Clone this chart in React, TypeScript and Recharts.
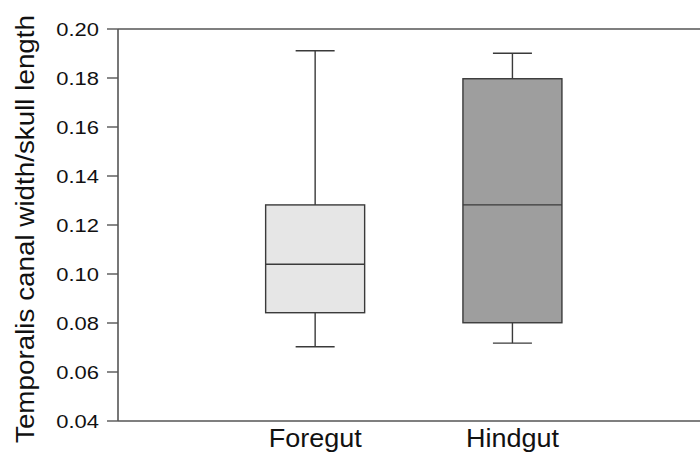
import { ComposedChart, Bar, XAxis, YAxis, ReferenceLine } from 'recharts';

const groups = ['Foregut', 'Hindgut'];
const positions = [1, 2];
const whiskerLow = [0.0703, 0.0718];
const q1 = [0.0842, 0.0801];
const median = [0.104, 0.1282];
const q3 = [0.1282, 0.1797];
const whiskerHigh = [0.1911, 0.1901];
const fills = ['#e6e6e6', '#9e9e9e'];
const yTicks = [0.04, 0.06, 0.08, 0.1, 0.12, 0.14, 0.16, 0.18, 0.2];

const data = groups.map((name, i) => ({
  name,
  pos: positions[i],
  min: whiskerLow[i],
  q1: q1[i],
  median: median[i],
  q3: q3[i],
  max: whiskerHigh[i],
  fill: fills[i]
}));

const font = 'Arial, "Liberation Sans", sans-serif';
const ink = '#3a3a3a';

// bar spans min..max, the inner marks are placed on the same linear scale
function BoxShape(props: any) {
  const { x, y, width, height, payload } = props;
  const top = Math.min(y, y + height);
  const bottom = Math.max(y, y + height);
  const span = payload.max - payload.min;
  const py = (v: number) => top + ((payload.max - v) / span) * (bottom - top);
  const cx = x + width / 2;
  const cap = 19.5;
  return (
    <g stroke={ink} strokeWidth={1.4} fill="none">
      <line x1={cx} x2={cx} y1={py(payload.max)} y2={py(payload.q3)} />
      <line x1={cx} x2={cx} y1={py(payload.q1)} y2={py(payload.min)} />
      <line x1={cx - cap} x2={cx + cap} y1={py(payload.max)} y2={py(payload.max)} />
      <line x1={cx - cap} x2={cx + cap} y1={py(payload.min)} y2={py(payload.min)} />
      <rect
        x={x}
        y={py(payload.q3)}
        width={width}
        height={py(payload.q1) - py(payload.q3)}
        fill={payload.fill}
      />
      <line x1={x} x2={x + width} y1={py(payload.median)} y2={py(payload.median)} />
    </g>
  );
}

function YTick(props: any) {
  const { x, y, payload } = props;
  return (
    <text
      transform={`translate(${x},${y}) scale(1.22,1)`}
      textAnchor="end"
      dy={6.5}
      fontSize={18}
      fontFamily={font}
      fill="#111"
    >
      {payload.value.toFixed(2)}
    </text>
  );
}

function XTick(props: any) {
  const { x, y, payload } = props;
  const idx = positions.indexOf(payload.value);
  return (
    <text
      transform={`translate(${x},${y}) scale(1.08,1)`}
      textAnchor="middle"
      dy={26}
      fontSize={25}
      fontFamily={font}
      fill="#111"
    >
      {groups[idx]}
    </text>
  );
}

function YTitle() {
  return (
    <text
      transform="translate(34,229) rotate(-90) scale(1.07,1)"
      textAnchor="middle"
      fontSize={26}
      fontFamily={font}
      fill="#111"
    >
      Temporalis canal width/skull length
    </text>
  );
}

export default function App() {
  return (
    <div
      style={{
        position: 'fixed',
        left: 0,
        top: 0,
        width: 700,
        height: 454,
        overflow: 'hidden',
        background: '#fff'
      }}
    >
      <ComposedChart
        width={700}
        height={454}
        data={data}
        margin={{ top: 29, right: 0, bottom: 0, left: 0 }}
      >
        <XAxis
          dataKey="pos"
          type="number"
          domain={[0, 2.95]}
          ticks={positions}
          tick={<XTick />}
          tickLine={false}
          tickSize={0}
          tickMargin={0}
          height={33}
          axisLine={{ stroke: '#555', strokeWidth: 1.6 }}
        />
        <YAxis
          type="number"
          domain={[0.04, 0.2]}
          ticks={yTicks}
          width={118}
          tickSize={11}
          tickMargin={8}
          tick={<YTick />}
          tickLine={{ stroke: '#555', strokeWidth: 1.4 }}
          axisLine={{ stroke: '#555', strokeWidth: 1.6 }}
          allowDataOverflow
          label={<YTitle />}
        />
        <ReferenceLine y={0.2} stroke="#555" strokeWidth={1.6} />
        <Bar
          dataKey={(d: any) => [d.min, d.max]}
          barSize={99}
          shape={<BoxShape />}
          isAnimationActive={false}
        />
      </ComposedChart>
    </div>
  );
}
